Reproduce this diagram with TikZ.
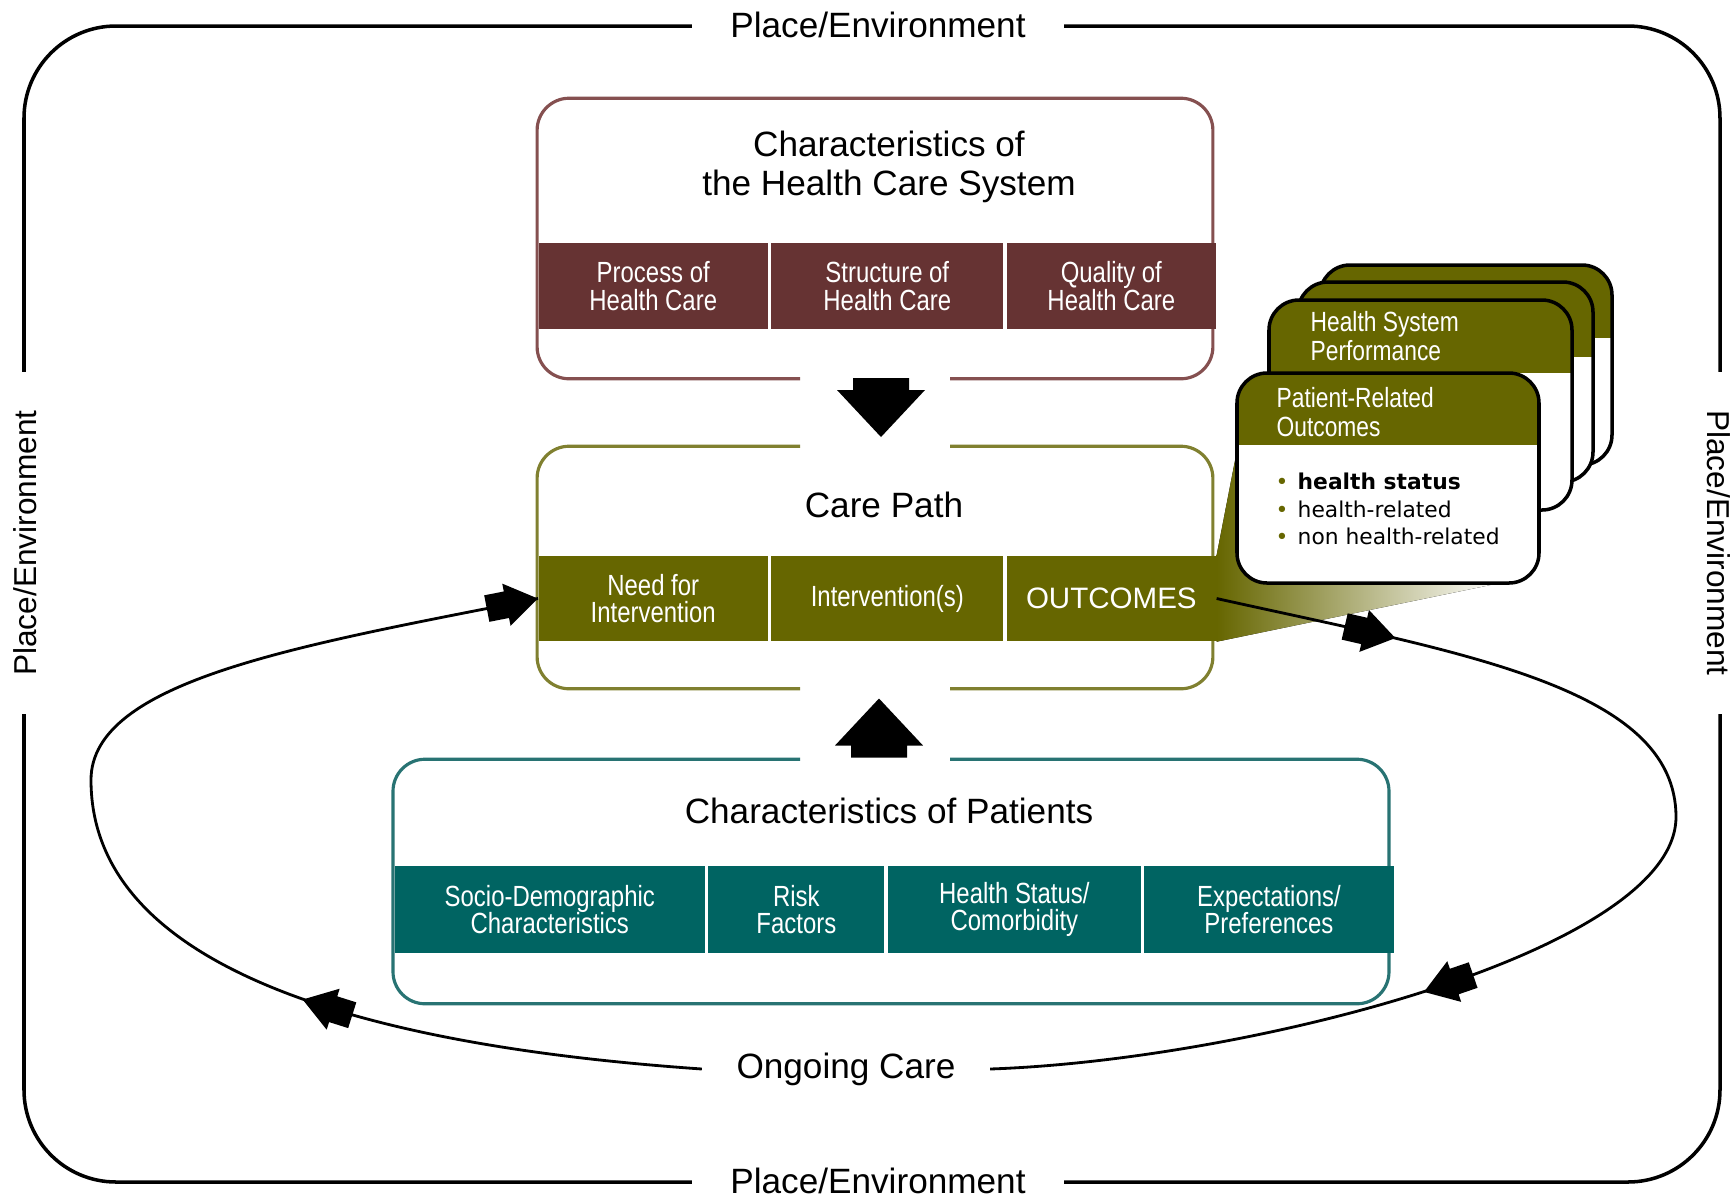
\documentclass[tikz,border=0pt]{standalone}
\usepackage{fontspec}
\setmainfont{Liberation Sans}
\newfontfamily\narrowsf{Liberation Sans}[FakeStretch=0.82]
\newfontfamily\listsf{DejaVu Sans}
\usetikzlibrary{positioning,calc,decorations.markings}

\definecolor{sysbrown}{RGB}{102,51,51}
\definecolor{sysedge}{RGB}{133,80,80}
\definecolor{pathol}{RGB}{102,102,0}
\definecolor{pathedge}{RGB}{128,128,48}
\definecolor{patteal}{RGB}{0,100,98}
\definecolor{patedge}{RGB}{40,115,115}

\tikzset{
  box/.style={rectangle, inner sep=0pt},
  cell/.style={rectangle, inner sep=0pt, minimum height=0.86cm, text=white,
    align=center, font=\narrowsf\fontsize{8.3}{7.9}\selectfont},
  syscell/.style={cell, fill=sysbrown},
  pathcell/.style={cell, fill=pathol, minimum height=0.85cm},
  patcell/.style={cell, fill=patteal, minimum height=0.87cm},
  boxtitle/.style={align=center, inner sep=0pt, font=\fontsize{10}{11}\selectfont},
  env/.style={fill=white, inner xsep=0.38cm, inner ysep=1pt, font=\fontsize{10}{12}\selectfont},
  envframe/.style={line width=1pt, rounded corners=0.92cm},
  rim/.style={line width=0.9pt, rounded corners=0.32cm},
  carecurve/.style={line width=0.8pt, postaction=decorate},
  card/.style={line width=1pt, rounded corners=0.3cm},
  cardhead/.style={text=white, align=left, anchor=west, inner sep=0pt,
    font=\narrowsf\fontsize{7.9}{8.2}\selectfont},
  bigarr/.pic={
    \fill (29.5,0) -- (-17.5,44) -- (-17.5,28) -- (-29.5,28) -- (-29.5,-28)
      -- (-17.5,-28) -- (-17.5,-44) -- cycle;
  },
}

% fat arrow head on the loop, tip at (#1,0) of the marking frame
\newcommand\fatarrow[1]{%
  \fill (#1,0) -- ++(-32,21.5) -- ++(0,-8) -- ++(-20,0) -- ++(0,-27)
    -- ++(20,0) -- ++(0,-8) -- cycle;
}

% one outcome card: white body, olive head, black rim
\newcommand\outcard[5]{%
  \fill[white, card] (#1,#2) rectangle (#3,#4);
  \begin{scope}[rounded corners=0.3cm]
    \clip (#1,#2) rectangle (#3,#4);
    \fill[pathol, sharp corners] (#1,#2) rectangle (#3,#5);
  \end{scope}
  \draw[card] (#1,#2) rectangle (#3,#4);
}

\begin{document}
\begin{tikzpicture}[x=0.01cm, y=-0.01cm]
\path[use as bounding box, fill=white] (0,0) rectangle (1732,1196);

% ---- place / environment frame --------------------------------------------
\draw[envframe] (24,26) rectangle (1720,1182);
\node[env] (envtop) at (878,25) {Place/Environment};
\node[env] (envbot) at (878,1181) {Place/Environment};
\node[env, rotate=90, font=\fontsize{9}{11}\selectfont] (envleft) at (25,543) {Place/Environment};
\node[env, rotate=-90, font=\fontsize{9}{11}\selectfont] (envright) at (1719,543) {Place/Environment};

% ---- the three boxes --------------------------------------------------------
\node[box, minimum width=6.74cm, minimum height=2.79cm] (sys) at (875,238.5) {};
\node[box, minimum width=6.74cm, minimum height=2.41cm] (cp)  at (875,567.5) {};
\node[box, minimum width=9.94cm, minimum height=2.43cm] (pat) at (891,881.5) {};

\draw[rim, sysedge] ($(sys.south)+(75,0)$) -| (sys.north east) -| (sys.south west) -- ($(sys.south)+(-75,0)$);
\draw[rim, pathedge] ($(cp.north)+(75,0)$) -| (cp.south east) -- ($(cp.south)+(75,0)$);
\draw[rim, pathedge] ($(cp.north)+(-75,0)$) -| (cp.south west) -- ($(cp.south)+(-75,0)$);
\draw[rim, patedge] ($(pat.north -| cp.north)+(75,0)$) -| (pat.south east) -| (pat.north west) -- ($(pat.north -| cp.north)+(-75,0)$);

\node[boxtitle] (systitle) at (889,167) {Characteristics of\\the Health Care System};
\node[boxtitle] (cptitle)  at (884,505) {Care Path};
\node[boxtitle] (pattitle) at (889,811) {Characteristics of Patients};

% ---- bands ------------------------------------------------------------------
\node[syscell, minimum width=2.29cm, anchor=west] (proc) at (538,286) {Process of\\Health Care};
\node[syscell, minimum width=2.32cm, right=0.02cm of proc]  (struc) {Structure of\\Health Care};
\node[syscell, minimum width=2.09cm, right=0.02cm of struc] (qual)  {Quality of\\Health Care};

\node[pathcell, minimum width=2.29cm, anchor=west] (need) at (538,598.5) {Need for\\Intervention};
\node[pathcell, minimum width=2.32cm, right=0.02cm of need]   (interv) {Intervention(s)};
\node[pathcell, minimum width=2.09cm, right=0.02cm of interv, font=\fontsize{8.4}{9}\selectfont] (outc) {OUTCOMES};

\node[patcell, minimum width=3.10cm, anchor=west] (socio) at (394,909.5) {Socio-Demographic\\Characteristics};
\node[patcell, minimum width=1.76cm, right=0.02cm of socio] (risk)  {Risk\\Factors};
\node[patcell, minimum width=2.53cm, right=0.02cm of risk]  (hstat) {Health Status/\\Comorbidity};
\node[patcell, minimum width=2.49cm, right=0.02cm of hstat] (expec) {Expectations/\\Preferences};

% ---- block arrows into the care path ----------------------------------------
\pic[rotate=-90] at ($(sys.south)!.5!(cp.north)+(6,-5)$) {bigarr};
\pic[rotate=90] at ($(cp.south)!.5!(pat.north -| cp.south)+(4,4)$) {bigarr};

% ---- outcome cards ------------------------------------------------------------
\fill[left color=pathol, right color=white] (outc.north east) -- (1238,445) -- (1500,583) -- (outc.south east) -- cycle;
\outcard{1320}{265}{1612}{465}{338}
\outcard{1298}{282}{1593}{482}{357}
\outcard{1269}{300}{1572}{510}{373}
\outcard{1237}{373}{1539}{583}{445}
\node[cardhead] (hsp) at (1310,336) {Health System\\Performance};
\node[cardhead] (pro) at (1276,412) {Patient-Related\\Outcomes};
\node[anchor=west, align=left, inner sep=0pt, font=\listsf\fontsize{6.2}{7.8}\selectfont] (prlist) at (1275,509) {%
  \textcolor{pathol}{\textbullet}\hspace{2.6pt}\textbf{health status}\\
  \textcolor{pathol}{\textbullet}\hspace{2.6pt}health-related\\
  \textcolor{pathol}{\textbullet}\hspace{2.6pt}non health-related};

% ---- ongoing care loop ----------------------------------------------------------
\node[font=\fontsize{10}{12}\selectfont, inner xsep=0.34cm] (ongoing) at (846,1069) {Ongoing Care};

\draw[carecurve, decoration={markings,
    mark=at position 1.57cm with {\fatarrow{26}},
    mark=at position 8.35cm with {\fatarrow{26}}}]
  (outc.east) .. controls (1462,653) and (1676,687) .. (1676,817)
  .. controls (1676,950) and (1250,1060) .. (ongoing.east);
\draw[carecurve, decoration={markings,
    mark=at position 3.8cm with {\fatarrow{26}},
    mark=at position 0.995 with {\fatarrow{6}}}]
  (ongoing.west) .. controls (430,1050) and (91,990) .. (91,780)
  .. controls (91,680) and (302,645) .. (need.west);

\end{tikzpicture}
\end{document}
